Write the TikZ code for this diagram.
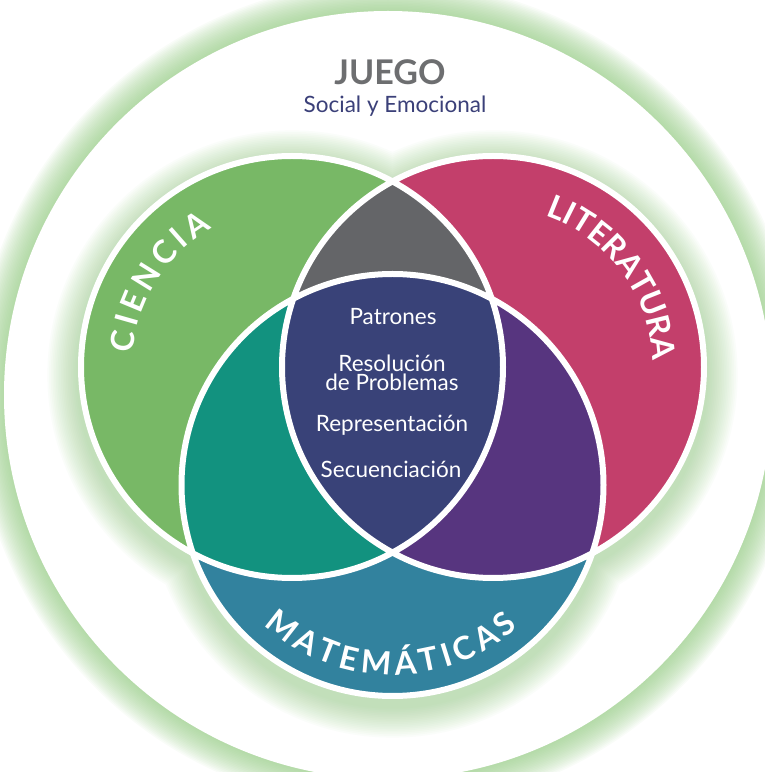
\documentclass[tikz,border=0pt]{standalone}
\usepackage{fontspec}
\setmainfont{Lato}
\usepackage{xcolor}
\usepackage{tikz}
\usetikzlibrary{decorations.text}
\definecolor{verdeCiencia}{HTML}{78B866}
\definecolor{rosaLit}{HTML}{C33F6B}
\definecolor{azulMat}{HTML}{32829E}
\definecolor{verdeAzul}{HTML}{12927F}
\definecolor{morado}{HTML}{57357F}
\definecolor{grisJuego}{HTML}{646568}
\definecolor{azulCentro}{HTML}{394278}
\definecolor{grisTitulo}{HTML}{6D6E70}
\definecolor{azulTexto}{HTML}{3B4079}
\definecolor{halo}{HTML}{8DC77B}
\newcommand{\rotulo}{\color{white}\bfseries\fontsize{32}{32}\selectfont}

\begin{document}
\begin{tikzpicture}[x=1pt, y=1pt,
    borde/.style={white, line width=6pt},
    etiqueta/.style={text=white, font=\fontsize{22.5}{22.5}\selectfont, inner sep=0pt}]
  \useasboundingbox (0,0) rectangle (764,772);
  \coordinate (centro) at (388,377);
  \coordinate (cie) at (292,405);
  \coordinate (lit) at (493,405);
  \coordinate (mat) at (392.5,287);
  % halo del circulo exterior
  \foreach \i in {1,...,20}{\fill[halo, opacity=0.05] (centro) circle ({384+1.5*\i});}
  \fill[white] (centro) circle (384);
  % sombra verde bajo los tres circulos
  \foreach \i in {1,...,18}{
    \pgfmathsetmacro{\r}{214+1.7*\i}
    \fill[halo, opacity=0.035] ([yshift=-8pt]cie) circle (\r) ([yshift=-8pt]lit) circle (\r) ([yshift=-8pt]mat) circle (\r);
  }
  \fill[verdeCiencia] (cie) circle (211);
  \fill[rosaLit] (lit) circle (211);
  \fill[azulMat] (mat) circle (211);
  \begin{scope}
    \clip (lit) circle (211);
    \fill[morado] (mat) circle (211);
  \end{scope}
  \begin{scope}
    \clip (cie) circle (211);
    \fill[grisJuego] (lit) circle (211);
    \fill[verdeAzul] (mat) circle (211);
    \clip (lit) circle (211);
    \fill[azulCentro] (mat) circle (211);
  \end{scope}
  \draw[borde] (cie) circle (211) (lit) circle (211) (mat) circle (211);
  % rotulos curvos
  \path[decorate, decoration={text along path, text align={fit to path}, text={|\rotulo|CIENCIA}}]
    (cie) ++(175:160) arc[start angle=175, end angle=120, radius=160];
  \path[decorate, decoration={text along path, text align={fit to path}, text={|\rotulo|LITERATURA}}]
    (lit) ++(71:160) arc[start angle=71, end angle=4, radius=160];
  \path[decorate, decoration={text along path, text align={fit to path}, text={|\rotulo|MATEMÁTICAS}}]
    (mat) ++(227.5:190) arc[start angle=227.5, end angle=311.5, radius=190];
  % textos
  \node[text=grisTitulo, font=\bfseries\fontsize{34}{34}\selectfont] (juego) at (390,700) {JUEGO};
  \node[text=azulTexto, font=\fontsize{22.5}{22.5}\selectfont] (social) at (395,666) {Social y Emocional};
  \node[etiqueta] (patrones) at (393,455) {Patrones};
  \node[etiqueta, align=center, font=\fontsize{22.5}{18.5}\selectfont] (resolucion) at (392,399) {Resolución\\de Problemas};
  \node[etiqueta] (representacion) at (392,347) {Representación};
  \node[etiqueta] (secuenciacion) at (391,303) {Secuenciación};
\end{tikzpicture}
\end{document}
